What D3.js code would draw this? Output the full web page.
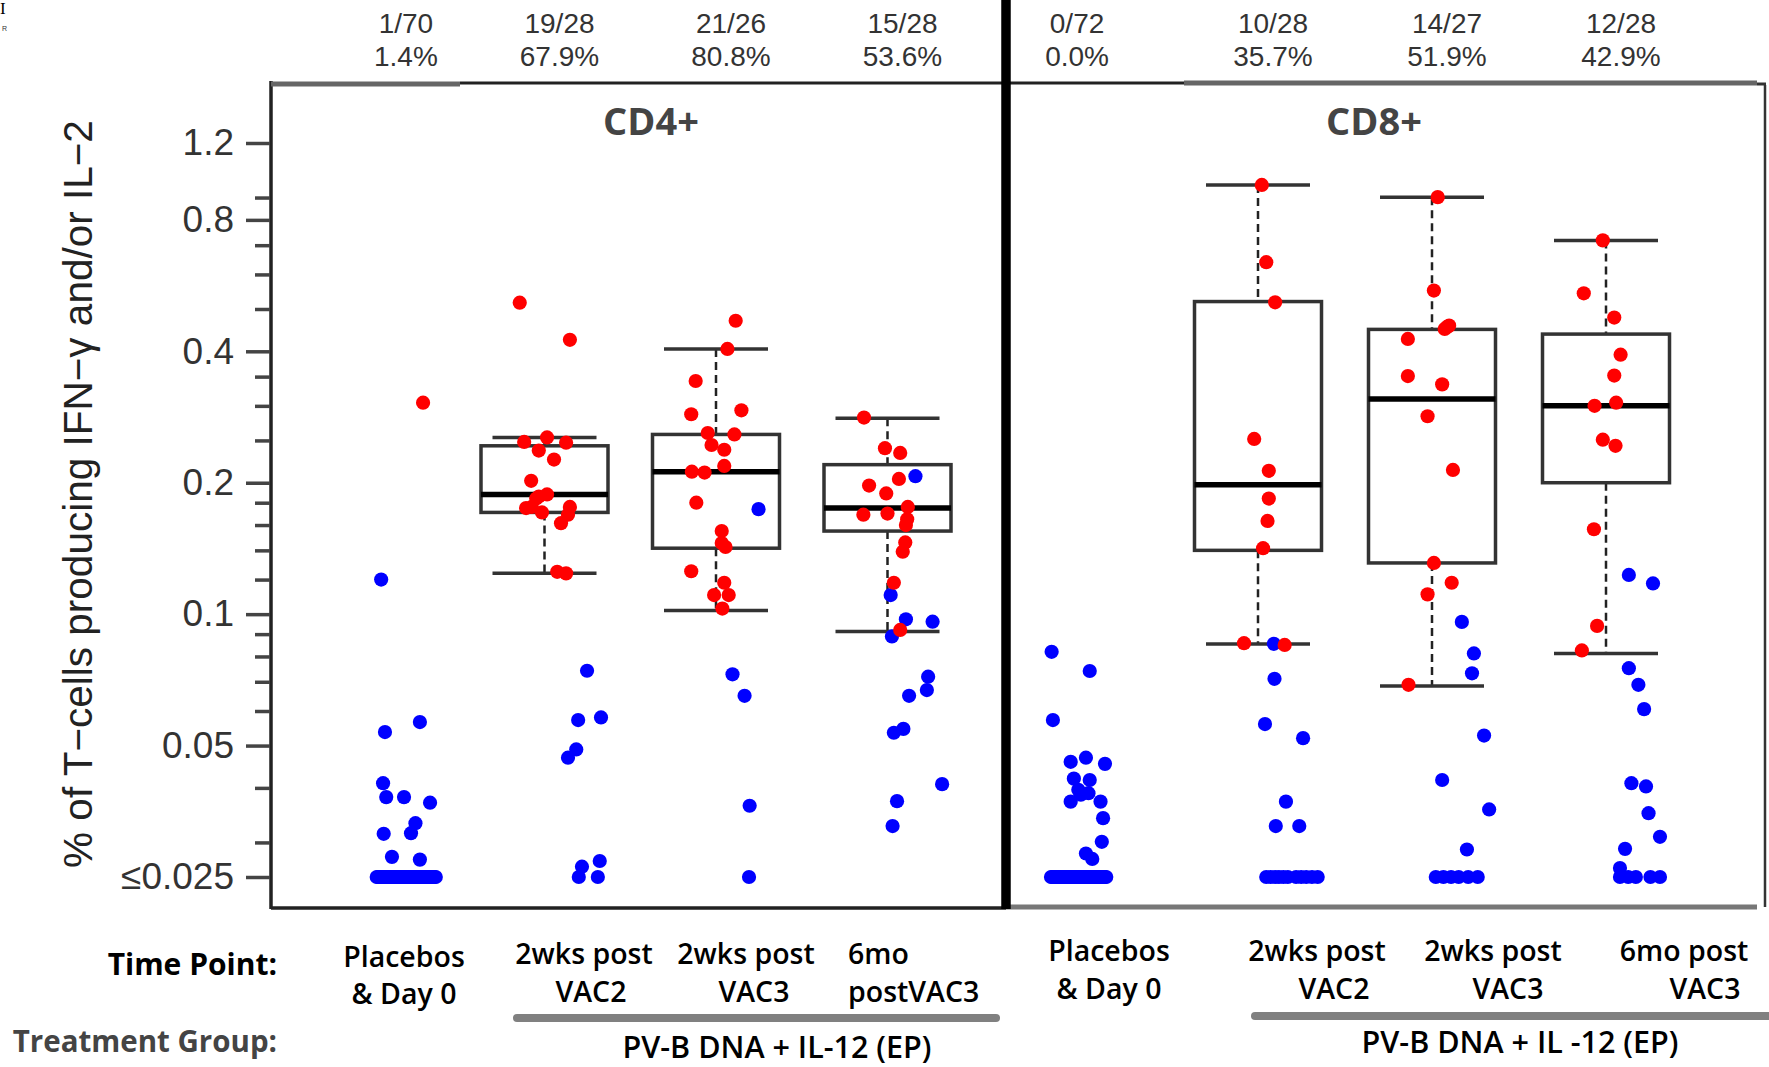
<!DOCTYPE html>
<html>
<head>
<meta charset="utf-8">
<script src="https://cdn.jsdelivr.net/npm/d3@7"></script>
<style>
  body { margin: 0; background: #fff; }
  svg { display: block; }
  .tick text { font-family: "Liberation Sans", Arial, sans-serif; }
</style>
</head>
<body>
<svg id="chart" width="1769" height="1067"></svg>
<script>
// ---- data ----
const timePoints = ['Placebos & Day 0', '2wks post VAC2', '2wks post VAC3', '6mo post VAC3'];

const cd4Counts = ['1/70', '19/28', '21/26', '15/28'];
const cd4Pcts = ['1.4%', '67.9%', '80.8%', '53.6%'];
const cd8Counts = ['0/72', '10/28', '14/27', '12/28'];
const cd8Pcts = ['0.0%', '35.7%', '51.9%', '42.9%'];

const majorTicks = [0.025, 0.05, 0.1, 0.2, 0.4, 0.8, 1.2];
const majorLabels = ['\u22640.025', '0.05', '0.1', '0.2', '0.4', '0.8', '1.2'];
const minorTicks = [0.03, 0.04, 0.06, 0.07, 0.08, 0.09, 0.12, 0.14, 0.16, 0.18,
  0.25, 0.3, 0.35, 0.5, 0.6, 0.7, 0.9];

// box stats per time point: [lower whisker, q1, median, q3, upper whisker]
const cd4Boxes = [null,
  [0.124, 0.171, 0.188, 0.243, 0.254],
  [0.102, 0.1416, 0.212, 0.258, 0.405],
  [0.0912, 0.155, 0.175, 0.220, 0.281]];
const cd8Boxes = [null,
  [0.0854, 0.140, 0.198, 0.520, 0.962],
  [0.0685, 0.131, 0.311, 0.449, 0.902],
  [0.0813, 0.200, 0.300, 0.438, 0.718]];

// points: [value, jitter] (jitter as a fraction of half the box width)
const cd4Red = [
  [[0.305, 0.27]],
  [[0.517, -0.39], [0.425, 0.40], [0.248, -0.32], [0.254, 0.04], [0.247, 0.34], [0.237, -0.09],
   [0.226, 0.15], [0.202, -0.21], [0.186, -0.09], [0.188, 0.04], [0.184, -0.13], [0.176, -0.2],
   [0.175, -0.29], [0.171, -0.04], [0.176, 0.40], [0.169, 0.37], [0.1616, 0.26], [0.125, 0.2],
   [0.124, 0.34]],
  [[0.47, 0.31], [0.405, 0.18], [0.342, -0.32], [0.287, -0.39], [0.293, 0.4], [0.26, -0.13],
   [0.258, 0.29], [0.244, -0.07], [0.238, 0.13], [0.2185, 0.13], [0.212, -0.38], [0.211, -0.18],
   [0.18, -0.31], [0.155, 0.09], [0.1455, 0.09], [0.1425, 0.15], [0.1254, -0.39], [0.118, 0.13],
   [0.1106, -0.03], [0.1106, 0.2], [0.103, 0.1]],
  [[0.282, -0.37], [0.24, -0.04], [0.234, 0.2], [0.204, 0.18], [0.197, -0.29], [0.189, -0.02],
   [0.169, -0.38], [0.17, 0], [0.176, 0.32], [0.165, 0.31], [0.16, 0.29], [0.146, 0.28],
   [0.139, 0.24], [0.118, 0.1], [0.092, 0.2]]
];

const cd4PlaceboFloor = [-0.46, -0.44, -0.41, -0.4, -0.37, -0.35, -0.34, -0.31, -0.3, -0.28,
  -0.25, -0.24, -0.22, -0.2, -0.19, -0.16, -0.15, -0.13, -0.11, -0.09, -0.08, -0.06, -0.04,
  -0.03, -0.01, 0.01, 0.02, 0.04, 0.06, 0.07, 0.09, 0.11, 0.12, 0.14, 0.16, 0.18, 0.19, 0.21,
  0.23, 0.24, 0.26, 0.28, 0.29, 0.31, 0.33, 0.34, 0.36, 0.38, 0.39, 0.41, 0.43, 0.45, 0.47,
  -0.27, 0.13, 0.27, -0.12];

const cd4Blue = [
  [[0.120, -0.39], [0.0537, -0.33], [0.0566, 0.22], [0.041, -0.36], [0.0381, -0.31], [0.0381, -0.03],
   [0.037, 0.38], [0.0314, -0.35], [0.0332, 0.15], [0.0315, 0.08], [0.0278, -0.22], [0.0274, 0.22]]
    .concat(cd4PlaceboFloor.map(j => [0.025, j])),
  [[0.0742, 0.67], [0.0572, 0.53], [0.058, 0.89], [0.049, 0.5], [0.0469, 0.37], [0.0264, 0.59],
   [0.0272, 0.87], [0.025, 0.54], [0.025, 0.84]],
  [[0.174, 0.67], [0.0728, 0.26], [0.065, 0.45], [0.0364, 0.53], [0.025, 0.52]],
  [[0.207, 0.44], [0.1106, 0.05], [0.0973, 0.29], [0.0961, 0.71], [0.0889, 0.07], [0.0719, 0.64],
   [0.067, 0.62], [0.065, 0.34], [0.0546, 0.25], [0.0535, 0.1], [0.0408, 0.86], [0.0373, 0.15],
   [0.0327, 0.08]]
];

const cd8Red = [
  [],
  [[0.962, 0.06], [0.64, 0.13], [0.518, 0.27], [0.252, -0.06], [0.213, 0.17], [0.184, 0.17],
   [0.1635, 0.15], [0.1416, 0.08], [0.0858, -0.22], [0.085, 0.42]],
  [[0.902, 0.09], [0.551, 0.03], [0.458, 0.27], [0.45, 0.2], [0.455, 0.24], [0.427, -0.38],
   [0.351, -0.38], [0.336, 0.16], [0.284, -0.07], [0.214, 0.33], [0.131, 0.03], [0.118, 0.31],
   [0.111, -0.07], [0.0689, -0.37]],
  [[0.718, -0.05], [0.543, -0.35], [0.478, 0.13], [0.393, 0.23], [0.352, 0.13], [0.3, -0.18],
   [0.305, 0.16], [0.251, -0.05], [0.243, 0.15], [0.1565, -0.19], [0.094, -0.14], [0.0826, -0.38]]
];

const cd8PlaceboFloor = [-0.41, -0.39, -0.37, -0.35, -0.33, -0.31, -0.29, -0.27, -0.26, -0.24,
  -0.22, -0.2, -0.18, -0.16, -0.15, -0.13, -0.11, -0.09, -0.07, -0.05, -0.04, -0.02, 0, 0.02,
  0.04, 0.05, 0.07, 0.09, 0.11, 0.13, 0.14, 0.16, 0.18, 0.2, 0.22, 0.23, 0.25, 0.27, 0.29,
  0.31, 0.32, 0.34, 0.36, 0.38, 0.4, 0.42, 0.44, 0.46, -0.3, -0.1, 0.1, 0.3, -0.21, 0.19, 0.35];

const cd8Blue = [
  [[0.082, -0.4], [0.0741, 0.2], [0.0572, -0.38], [0.0459, -0.1], [0.0469, 0.14], [0.0454, 0.44],
   [0.042, -0.05], [0.0417, 0.2], [0.0389, 0.18], [0.0372, -0.1], [0.0372, 0.37], [0.0341, 0.41],
   [0.0301, 0.39], [0.0283, 0.14], [0.0275, 0.24], [0.0386, 0.06], [0.0396, 0.02]]
    .concat(cd8PlaceboFloor.map(j => [0.025, j])),
  [[0.0855, 0.25], [0.0711, 0.26], [0.056, 0.11], [0.052, 0.71], [0.0372, 0.44], [0.0327, 0.28],
   [0.0327, 0.65]]
    .concat([0.13, 0.2, 0.27, 0.33, 0.4, 0.47, 0.6, 0.68, 0.76, 0.85, 0.94].map(j => [0.025, j])),
  [[0.096, 0.47], [0.0813, 0.66], [0.0732, 0.63], [0.0527, 0.82], [0.0417, 0.16], [0.0357, 0.9],
   [0.0289, 0.55]]
    .concat([0.06, 0.18, 0.3, 0.42, 0.57, 0.72].map(j => [0.025, j])),
  [[0.123, 0.36], [0.1176, 0.74], [0.0752, 0.36], [0.0689, 0.51], [0.0606, 0.6], [0.041, 0.4],
   [0.0403, 0.63], [0.035, 0.67], [0.0309, 0.85], [0.029, 0.3], [0.0262, 0.22]]
    .concat([0.22, 0.35, 0.47, 0.7, 0.85].map(j => [0.025, j]))
];

// ---- layout ----
const svg = d3.select('#chart');
const frame = { top: 83, bottom: 908, left: 271, right: 1765 };
const divX = 1006;

const yScale = d3.scaleLog().domain([0.025, 1.2]).range([877, 143]);
const jitter = d3.scaleLinear().domain([-1, 1]).range([-63.5, 63.5]);
const boxHalf = 63.5, capHalf = 52;

const panels = [
  { title: 'CD4+', titleX: 651, counts: cd4Counts, pcts: cd4Pcts, boxes: cd4Boxes,
    red: cd4Red, blue: cd4Blue, slots: [0.192, 1, 2, 3],
    x: d3.scaleLinear().domain([1, 3]).range([544.5, 887.5]) },
  { title: 'CD8+', titleX: 1374, counts: cd8Counts, pcts: cd8Pcts, boxes: cd8Boxes,
    red: cd8Red, blue: cd8Blue, slots: [-0.04, 1, 2, 3],
    x: d3.scaleLinear().domain([1, 3]).range([1258, 1606]) }
];

// tiny crop remnants at top-left
svg.append('text').attr('x', 0).attr('y', 14).attr('font-family', 'Liberation Serif')
  .attr('font-size', 17).text('I');
svg.append('text').attr('x', 2).attr('y', 31).attr('font-family', 'Liberation Sans')
  .attr('font-size', 7).attr('fill', '#333').text('R');

// frame lines
const lines = svg.append('g').attr('fill', 'none');
lines.append('line').attr('x1', frame.left).attr('x2', frame.left)
  .attr('y1', frame.top - 2).attr('y2', frame.bottom + 1).attr('stroke', '#222').attr('stroke-width', 3.5);
lines.append('line').attr('x1', frame.left).attr('x2', 460)
  .attr('y1', frame.top + 1).attr('y2', frame.top + 1).attr('stroke', '#666').attr('stroke-width', 5);
lines.append('line').attr('x1', 460).attr('x2', divX)
  .attr('y1', frame.top).attr('y2', frame.top).attr('stroke', '#222').attr('stroke-width', 3);
lines.append('line').attr('x1', frame.left).attr('x2', divX)
  .attr('y1', frame.bottom).attr('y2', frame.bottom).attr('stroke', '#222').attr('stroke-width', 3.5);
lines.append('line').attr('x1', divX).attr('x2', 1184)
  .attr('y1', frame.top).attr('y2', frame.top).attr('stroke', '#222').attr('stroke-width', 3);
lines.append('line').attr('x1', 1184).attr('x2', 1757)
  .attr('y1', frame.top).attr('y2', frame.top).attr('stroke', '#666').attr('stroke-width', 5);
lines.append('line').attr('x1', divX).attr('x2', 1757)
  .attr('y1', frame.bottom - 1).attr('y2', frame.bottom - 1).attr('stroke', '#777').attr('stroke-width', 5);
lines.append('line').attr('x1', frame.right).attr('x2', frame.right)
  .attr('y1', frame.top + 2).attr('y2', frame.bottom - 1).attr('stroke', '#333').attr('stroke-width', 2.5);
lines.append('line').attr('x1', 1757).attr('x2', frame.right + 1)
  .attr('y1', frame.top + 1).attr('y2', frame.top + 1).attr('stroke', '#333').attr('stroke-width', 3);

// y axis: major + minor ticks
const yAxis = svg.append('g').attr('transform', `translate(${frame.left - 1},0)`)
  .call(d3.axisLeft(yScale).tickValues(majorTicks).tickSize(24).tickPadding(12)
    .tickFormat((d, i) => majorLabels[i]));
yAxis.select('.domain').remove();
yAxis.selectAll('.tick line').attr('stroke', '#444').attr('stroke-width', 3.5);
yAxis.selectAll('.tick text').attr('font-size', 37).attr('fill', '#333');

const yMinor = svg.append('g').attr('transform', `translate(${frame.left - 1},0)`)
  .call(d3.axisLeft(yScale).tickValues(minorTicks).tickSize(15).tickFormat(''));
yMinor.select('.domain').remove();
yMinor.selectAll('.tick line').attr('stroke', '#444').attr('stroke-width', 3.5);

svg.append('text')
  .attr('transform', 'translate(92,494) rotate(-90)')
  .attr('text-anchor', 'middle')
  .attr('font-family', '"Liberation Sans", Arial, sans-serif')
  .attr('font-size', 40.5).attr('fill', '#222')
  .text('% of T\u2212cells producing IFN\u2212\u03b3 and/or IL\u22122');

// panels
panels.forEach(p => {
  const cx = i => p.x(p.slots[i]);

  // header counts
  const head = svg.append('g').attr('font-family', '"Liberation Sans", Arial, sans-serif')
    .attr('font-size', 28).attr('fill', '#333').attr('text-anchor', 'middle');
  p.counts.forEach((c, i) => {
    const hx = cx(i) + (i === 0 ? 0 : 15);
    head.append('text').attr('x', hx).attr('y', 33).text(c);
    head.append('text').attr('x', hx).attr('y', 66).text(p.pcts[i]);
  });

  svg.append('text').attr('x', p.titleX).attr('y', 135).attr('text-anchor', 'middle')
    .attr('font-family', '"Open Sans", sans-serif').attr('font-weight', 700)
    .attr('font-size', 38).attr('fill', '#444').text(p.title);

  // boxes
  const g = svg.append('g');
  p.boxes.forEach((b, i) => {
    if (!b) return;
    const x = cx(i);
    const [lo, q1, med, q3, hi] = b;
    g.append('line').attr('x1', x).attr('x2', x).attr('y1', yScale(hi)).attr('y2', yScale(q3))
      .attr('stroke', '#222').attr('stroke-width', 2.5).attr('stroke-dasharray', '8,5');
    g.append('line').attr('x1', x).attr('x2', x).attr('y1', yScale(q1)).attr('y2', yScale(lo))
      .attr('stroke', '#222').attr('stroke-width', 2.5).attr('stroke-dasharray', '8,5');
    [lo, hi].forEach(v => g.append('line')
      .attr('x1', x - capHalf).attr('x2', x + capHalf).attr('y1', yScale(v)).attr('y2', yScale(v))
      .attr('stroke', '#333').attr('stroke-width', 3.5));
    g.append('rect').attr('x', x - boxHalf).attr('width', boxHalf * 2)
      .attr('y', yScale(q3)).attr('height', yScale(q1) - yScale(q3))
      .attr('fill', 'none').attr('stroke', '#333').attr('stroke-width', 3.5);
    g.append('line').attr('x1', x - boxHalf).attr('x2', x + boxHalf)
      .attr('y1', yScale(med)).attr('y2', yScale(med))
      .attr('stroke', '#000').attr('stroke-width', 5.5);
  });

  // points: blue under red
  [[p.blue, '#0000ff'], [p.red, '#ff0000']].forEach(([sets, color]) => {
    sets.forEach((pts, i) => {
      g.append('g').selectAll('circle').data(pts).join('circle')
        .attr('cx', d => cx(i) + jitter(d[1]))
        .attr('cy', d => yScale(d[0]))
        .attr('r', 7.1)
        .attr('fill', color);
    });
  });
});

// thick divider
svg.append('line').attr('x1', divX).attr('x2', divX).attr('y1', 0).attr('y2', frame.bottom + 1)
  .attr('stroke', '#000').attr('stroke-width', 9.5);

// bottom annotation
const ann = svg.append('g').attr('font-family', '"Open Sans", sans-serif')
  .attr('font-weight', 600).attr('font-size', 28.5).attr('fill', '#000');
ann.append('text').attr('x', 277).attr('y', 975).attr('text-anchor', 'end')
  .attr('font-weight', 700).attr('font-size', 30).text('Time Point:');
ann.append('text').attr('x', 277).attr('y', 1052).attr('text-anchor', 'end')
  .attr('font-weight', 700).attr('font-size', 29.5).attr('fill', '#444').text('Treatment Group:');

const timeLabels = [
  ['Placebos', 404, 967, 'middle'], ['& Day 0', 404, 1004, 'middle'],
  ['2wks post', 584, 964, 'middle'], ['VAC2', 591, 1002, 'middle'],
  ['2wks post', 746, 964, 'middle'], ['VAC3', 754, 1002, 'middle'],
  ['6mo', 848, 964, 'start'], ['postVAC3', 848, 1002, 'start'],
  ['Placebos', 1109, 961, 'middle'], ['& Day 0', 1109, 999, 'middle'],
  ['2wks post', 1317, 961, 'middle'], ['VAC2', 1334, 999, 'middle'],
  ['2wks post', 1493, 961, 'middle'], ['VAC3', 1508, 999, 'middle'],
  ['6mo post', 1684, 961, 'middle'], ['VAC3', 1705, 999, 'middle']
];
timeLabels.forEach(([t, x, y, a]) => ann.append('text').attr('x', x).attr('y', y)
  .attr('text-anchor', a).text(t));

[[517, 996, 1018], [1255, 1769, 1016]].forEach(([x1, x2, y]) =>
  svg.append('line').attr('x1', x1).attr('x2', x2).attr('y1', y).attr('y2', y)
    .attr('stroke', '#808080').attr('stroke-width', 8).attr('stroke-linecap', 'round'));

ann.append('text').attr('x', 777).attr('y', 1058).attr('text-anchor', 'middle')
  .attr('font-size', 30.5).text('PV-B DNA + IL-12 (EP)');
ann.append('text').attr('x', 1520).attr('y', 1053).attr('text-anchor', 'middle')
  .attr('font-size', 30.5).text('PV-B DNA + IL -12 (EP)');
</script>
</body>
</html>
